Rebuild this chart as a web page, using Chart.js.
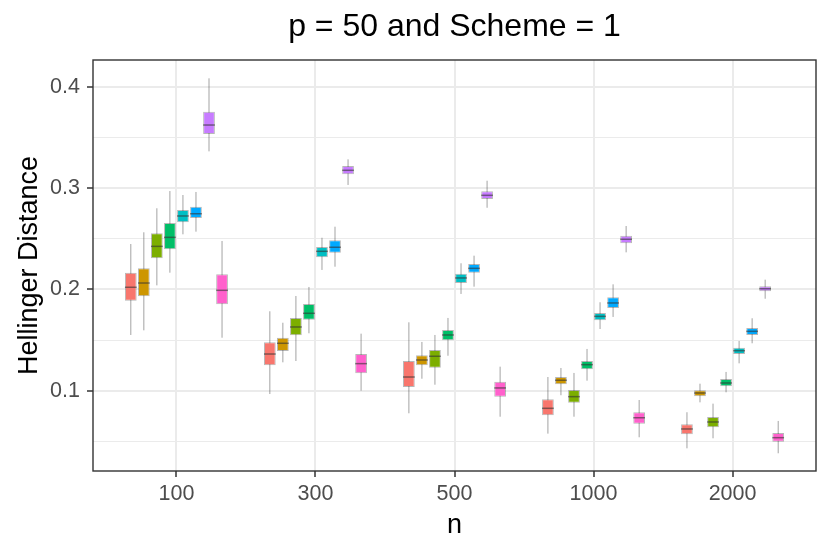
<!DOCTYPE html>
<html><head><meta charset="utf-8">
<script src="https://cdn.jsdelivr.net/npm/chart.js@4/dist/chart.umd.min.js"></script>
<style>html,body{margin:0;padding:0;background:#fff}#wrap{width:830px;height:554px}</style>
</head><body><div id="wrap"><canvas id="c" width="830" height="554"></canvas></div>
<script>
const nLabels = ['100', '300', '500', '1000', '2000'];
const seriesColors = ['#F8766D', '#CD9600', '#7CAE00', '#00BE67', '#00BFC4', '#00A9FF', '#C77CFF', '#FF61CC'];
const yTickValues = [0.05, 0.1, 0.15, 0.2, 0.25, 0.3, 0.35, 0.4];
const yTickLabels = ['', '0.1', '', '0.2', '', '0.3', '', '0.4'];

// rows = series (8), columns = n (100, 300, 500, 1000, 2000)
const whiskerHigh = [
  [0.2448, 0.1784, 0.1675, 0.1135, 0.0787],
  [0.2564, 0.1671, 0.1481, 0.1224, 0.1069],
  [0.2801, 0.1935, 0.1550, 0.1175, 0.0872],
  [0.2971, 0.2024, 0.1718, 0.1412, 0.1185],
  [0.2932, 0.2510, 0.2258, 0.1873, 0.1491],
  [0.2962, 0.2619, 0.2333, 0.2050, 0.1715],
  [0.4084, 0.3284, 0.3073, 0.2626, 0.2096],
  [0.2478, 0.1563, 0.1237, 0.0908, 0.0701]
];
const boxHigh = [
  [0.2165, 0.1478, 0.1293, 0.0915, 0.0668],
  [0.2208, 0.1523, 0.1349, 0.1135, 0.1004],
  [0.2554, 0.1718, 0.1402, 0.1007, 0.0740],
  [0.2655, 0.1856, 0.1599, 0.1293, 0.1116],
  [0.2784, 0.2419, 0.2155, 0.1767, 0.1425],
  [0.2816, 0.2485, 0.2251, 0.1922, 0.1619],
  [0.3754, 0.3218, 0.2968, 0.2530, 0.2031],
  [0.2149, 0.1362, 0.1089, 0.0787, 0.0582]
];
const medians = [
  [0.2021, 0.1362, 0.1135, 0.0826, 0.0622],
  [0.2063, 0.1468, 0.1303, 0.1103, 0.0977],
  [0.2425, 0.1629, 0.1340, 0.0941, 0.0691],
  [0.2514, 0.1764, 0.1550, 0.1257, 0.1076],
  [0.2725, 0.2376, 0.2113, 0.1734, 0.1395],
  [0.2747, 0.2416, 0.2208, 0.1866, 0.1586],
  [0.3623, 0.3176, 0.2929, 0.2495, 0.2007],
  [0.1991, 0.1267, 0.1027, 0.0733, 0.0536]
];
const boxLow = [
  [0.1888, 0.1251, 0.1037, 0.0757, 0.0570],
  [0.1932, 0.1392, 0.1251, 0.1063, 0.0945],
  [0.2307, 0.1547, 0.1227, 0.0882, 0.0638],
  [0.2396, 0.1701, 0.1498, 0.1211, 0.1043],
  [0.2662, 0.2317, 0.2063, 0.1695, 0.1362],
  [0.2705, 0.2362, 0.2165, 0.1816, 0.1550],
  [0.3534, 0.3136, 0.2892, 0.2455, 0.1981],
  [0.1853, 0.1172, 0.0941, 0.0674, 0.0497]
];
const whiskerLow = [
  [0.1550, 0.0967, 0.0777, 0.0576, 0.0431],
  [0.1596, 0.1280, 0.1118, 0.0955, 0.0885],
  [0.2040, 0.1293, 0.1059, 0.0743, 0.0530],
  [0.2165, 0.1567, 0.1345, 0.1099, 0.0984],
  [0.2544, 0.2192, 0.1955, 0.1609, 0.1270],
  [0.2570, 0.2224, 0.2027, 0.1728, 0.1468],
  [0.3363, 0.3031, 0.2806, 0.2366, 0.1908],
  [0.1523, 0.1000, 0.0743, 0.0540, 0.0382]
];

Chart.defaults.font.family = "'Liberation Sans', Arial, sans-serif";

const datasets = seriesColors.map((col, si) => ({
  label: 'S' + (si + 1),
  data: nLabels.map((_, gi) => ({ x: gi, y: [boxLow[si][gi], boxHigh[si][gi]] })),
  backgroundColor: col,
  borderColor: 'rgba(51,51,51,0.35)',
  borderWidth: 1,
  borderSkipped: false
}));

const boxPlugin = {
  id: 'boxParts',
  beforeDatasetsDraw(chart) {
    const ctx = chart.ctx, y = chart.scales.y;
    ctx.save();
    ctx.strokeStyle = 'rgba(51,51,51,0.45)';
    ctx.lineWidth = 1;
    chart.data.datasets.forEach((ds, si) => {
      chart.getDatasetMeta(si).data.forEach((bar, gi) => {
        const x = bar.x;
        ctx.beginPath();
        ctx.moveTo(x, y.getPixelForValue(whiskerLow[si][gi]));
        ctx.lineTo(x, y.getPixelForValue(whiskerHigh[si][gi]));
        ctx.stroke();
      });
    });
    ctx.restore();
  },
  afterDatasetsDraw(chart) {
    const ctx = chart.ctx, y = chart.scales.y;
    ctx.save();
    ctx.strokeStyle = 'rgba(51,51,51,0.6)';
    ctx.lineWidth = 1.5;
    chart.data.datasets.forEach((ds, si) => {
      chart.getDatasetMeta(si).data.forEach((bar, gi) => {
        const py = y.getPixelForValue(medians[si][gi]);
        ctx.beginPath();
        ctx.moveTo(bar.x - bar.width / 2, py);
        ctx.lineTo(bar.x + bar.width / 2, py);
        ctx.stroke();
      });
    });
    ctx.restore();
  },
  afterDraw(chart) {
    const a = chart.chartArea, ctx = chart.ctx;
    ctx.save();
    ctx.strokeStyle = '#333333';
    ctx.lineWidth = 1.4;
    ctx.strokeRect(a.left, a.top, a.right - a.left, a.bottom - a.top);
    ctx.restore();
  }
};

new Chart(document.getElementById('c'), {
  type: 'bar',
  data: { datasets },
  plugins: [boxPlugin],
  options: {
    responsive: false,
    animation: false,
    devicePixelRatio: 1,
    layout: { padding: { left: 0, right: 14, top: 0, bottom: 0 } },
    datasets: { bar: { categoryPercentage: 0.75, barPercentage: 0.9, grouped: true } },
    plugins: {
      legend: { display: false },
      tooltip: { enabled: false },
      title: {
        display: true, text: 'p = 50 and Scheme = 1', color: '#000000', fullSize: false,
        font: { size: 32, weight: 'normal' }, padding: { top: 8, bottom: 13.6 }
      }
    },
    scales: {
      x: {
        type: 'linear', min: -0.6, max: 4.6, offset: false,
        afterBuildTicks: s => { s.ticks = nLabels.map((_, i) => ({ value: i })); },
        afterFit: s => { s.height = 83; },
        ticks: {
          callback: (v, i) => nLabels[i], color: '#4D4D4D', autoSkip: false, maxRotation: 0,
          font: { size: 21.5 }, padding: 4
        },
        grid: { color: '#EBEBEB', lineWidth: 2, offset: false, tickLength: 6, tickColor: '#333333', tickWidth: 1.5 },
        border: { display: false },
        title: { display: true, text: 'n', color: '#000000', font: { size: 27 }, padding: { top: 0, bottom: 12 } }
      },
      y: {
        type: 'linear', min: 0.0207, max: 0.4265,
        afterBuildTicks: s => { s.ticks = yTickValues.map(v => ({ value: v })); },
        afterFit: s => { s.width = 93; },
        ticks: {
          callback: (v, i) => yTickLabels[i], color: '#4D4D4D', autoSkip: false,
          font: { size: 21.5 }, padding: 7
        },
        grid: {
          color: '#EBEBEB',
          lineWidth: c => (yTickLabels[c.index] ? 2 : 1),
          tickLength: 6,
          tickColor: c => (yTickLabels[c.index] ? '#333333' : 'rgba(0,0,0,0)'),
          tickWidth: 1.5
        },
        border: { display: false },
        title: { display: true, text: 'Hellinger Distance', color: '#000000', font: { size: 27 }, padding: { top: 13, bottom: 0 } }
      }
    }
  }
});
</script></body></html>
